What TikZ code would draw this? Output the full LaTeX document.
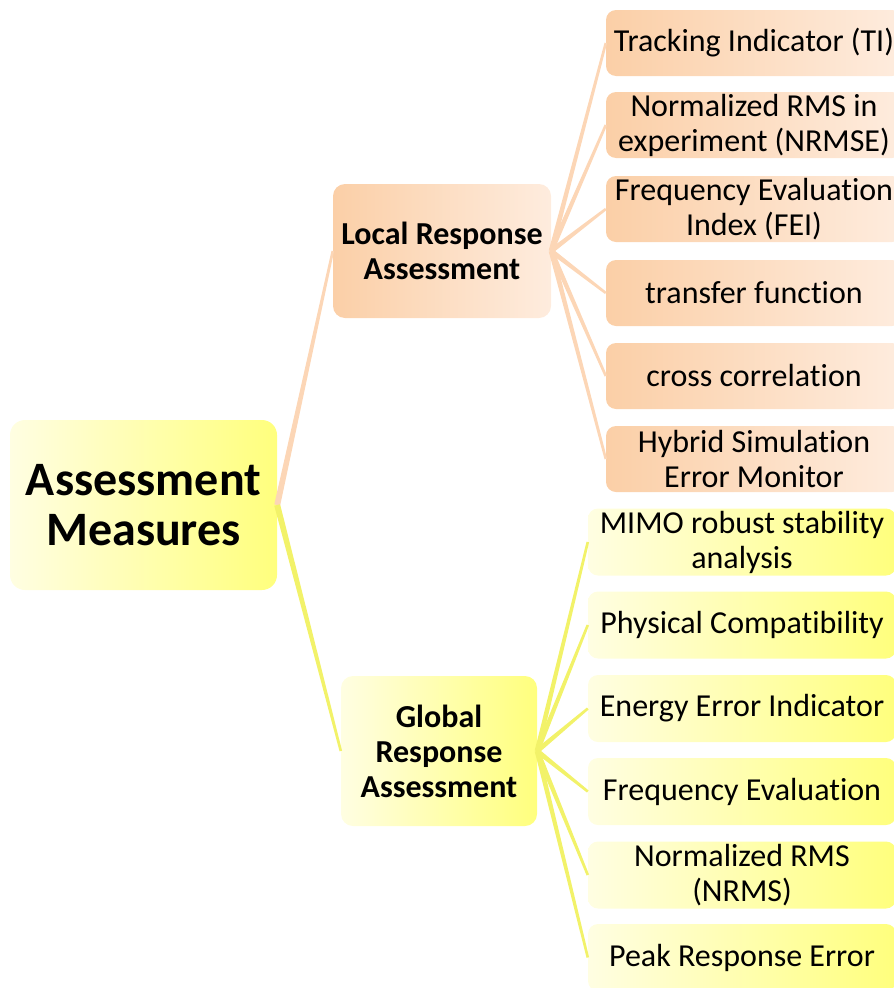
\documentclass[tikz,border=0pt]{standalone}
\usepackage{fontspec}
\setmainfont{Carlito}[Ligatures=NoCommon]
\usetikzlibrary{calc}

\definecolor{peach}{RGB}{251,207,167}
\definecolor{peachlight}{RGB}{254,236,222}
\definecolor{peachline}{RGB}{252,214,182}
\definecolor{lemon}{RGB}{255,255,125}
\definecolor{lemonlight}{RGB}{255,254,226}
\definecolor{lemonline}{RGB}{242,242,105}

% tapered branch: colour, from, to, half width at the start
\newcommand{\twig}[4]{%
  \fill[#1] ($(#2)!#4!90:(#3)$) -- ($(#2)!#4!-90:(#3)$)
    -- ($(#3)!1.3pt!90:(#2)$) -- ($(#3)!1.3pt!-90:(#2)$) -- cycle;}

\tikzset{
  box/.style={rounded corners=10pt, inner sep=0pt, align=center,
    font=\fontsize{32}{35}\selectfont},
  orangeleaf/.style={box, left color=peach, right color=peachlight,
    minimum width=296pt, minimum height=66pt},
  yellowleaf/.style={box, left color=lemonlight, right color=lemon,
    minimum width=308pt, minimum height=67pt},
  midbox/.style={box, rounded corners=12pt,
    font=\fontsize{32}{35}\selectfont\bfseries},
}

\begin{document}
\begin{tikzpicture}[x=1pt,y=-1pt]
    \useasboundingbox (0,0) rectangle (894,988);
    \node[box, rounded corners=15pt, left color=lemonlight, right color=lemon, minimum width=267pt, minimum height=170pt, font=\fontsize{48}{50}\selectfont\bfseries] (root) at (143.5,505) {Assessment\\Measures};
    \node[midbox, left color=peach, right color=peachlight, minimum width=218pt, minimum height=134pt] (local) at (442,251) {Local Response\\Assessment};
    \node[midbox, left color=lemonlight, right color=lemon, minimum width=196pt, minimum height=150pt] (global) at (439,751) {Global\\Response\\Assessment};
    \node[orangeleaf] (ti) at (754,43) {Tracking Indicator (TI)};
    \node[orangeleaf] (nrmse) at (754,125) {Normalized RMS in\\experiment (NRMSE)};
    \node[orangeleaf] (fei) at (754,209) {Frequency Evaluation\\Index (FEI)};
    \node[orangeleaf] (tf) at (754,293) {transfer function};
    \node[orangeleaf] (cc) at (754,376) {cross correlation};
    \node[orangeleaf] (hsem) at (754,459) {Hybrid Simulation\\Error Monitor};
    \node[yellowleaf] (mimo) at (742,542) {MIMO robust stability\\analysis};
    \node[yellowleaf] (phys) at (742,625) {Physical Compatibility};
    \node[yellowleaf] (energy) at (742,708.5) {Energy Error Indicator};
    \node[yellowleaf] (freq) at (742,791.5) {Frequency Evaluation};
    \node[yellowleaf] (nrms) at (742,875) {Normalized RMS\\(NRMS)};
    \node[yellowleaf] (peak) at (742,957.5) {Peak Response Error};
    \twig{peachline}{root.east}{local.west}{3pt}
    \twig{lemonline}{root.east}{global.west}{3pt}
    \twig{peachline}{local.east}{ti.west}{2.5pt}
    \twig{peachline}{local.east}{nrmse.west}{2.5pt}
    \twig{peachline}{local.east}{fei.west}{2.5pt}
    \twig{peachline}{local.east}{tf.west}{2.5pt}
    \twig{peachline}{local.east}{cc.west}{2.5pt}
    \twig{peachline}{local.east}{hsem.west}{2.5pt}
    \twig{lemonline}{global.east}{mimo.west}{2.5pt}
    \twig{lemonline}{global.east}{phys.west}{2.5pt}
    \twig{lemonline}{global.east}{energy.west}{2.5pt}
    \twig{lemonline}{global.east}{freq.west}{2.5pt}
    \twig{lemonline}{global.east}{nrms.west}{2.5pt}
    \twig{lemonline}{global.east}{peak.west}{2.5pt}
\end{tikzpicture}
\end{document}
